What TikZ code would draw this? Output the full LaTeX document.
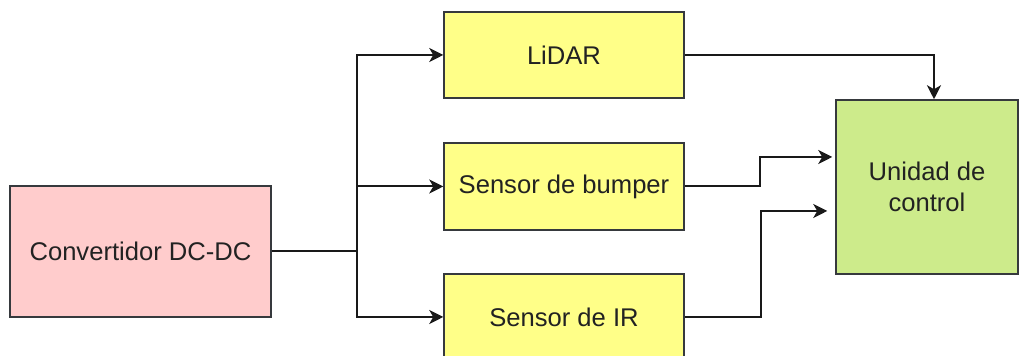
\documentclass[tikz,border=0pt]{standalone}
\usepackage{fontspec}
\setmainfont{Liberation Sans}
\usetikzlibrary{arrows.meta}
\definecolor{edgegrey}{HTML}{36393D}
\definecolor{pinkfill}{HTML}{FFCCCC}
\definecolor{yellowfill}{HTML}{FFFF88}
\definecolor{greenfill}{HTML}{CDEB8B}
\definecolor{txt}{HTML}{222222}
\tikzset{
  block/.style={draw=edgegrey, line width=0.75pt, rectangle, align=center,
    text=txt, font=\fontsize{12.8}{15.5}\selectfont, inner sep=0pt},
  wire/.style={draw=black!90, line width=1pt},
  arr/.style={wire, -{Stealth[length=7pt, width=7pt, inset=2pt]}}
}
\begin{document}
\begin{tikzpicture}[x=0.5pt, y=-0.5pt]
  \useasboundingbox (0,0) rectangle (1019,356);

  % blocks
  \node[block, fill=pinkfill, minimum width=130.5pt, minimum height=65.5pt]
    (conv) at (140.5,251.5) {Convertidor DC-DC};
  \node[block, fill=yellowfill, minimum width=120pt, minimum height=43pt]
    (lidar) at (564,55) {LiDAR};
  \node[block, fill=yellowfill, minimum width=120pt, minimum height=43.5pt]
    (bump) at (564,186.5) {Sensor de bumper};
  \node[block, fill=yellowfill, minimum width=120pt, minimum height=43pt]
    (ir) at (564,317) {Sensor de IR};
  \node[block, fill=greenfill, minimum width=91pt, minimum height=87pt]
    (unit) at (927,187) {Unidad de\\control};

  % power distribution
  \coordinate (split) at (357,251.5);
  \draw[wire] (conv.east) -- (split);
  \draw[arr] (split) |- (lidar.west);
  \draw[arr] (split) |- (bump.west);
  \draw[arr] (split) |- (ir.west);

  % sensor signals to the control unit
  \draw[arr] (lidar.east) -| ([xshift=3.5pt]unit.north);
  \draw[arr] (bump.east) -- ++(75,0) |- ([xshift=-1.5pt, yshift=15pt]unit.west);
  \draw[arr] (ir.east) -- ++(76,0) |- ([xshift=-4pt, yshift=-12pt]unit.west);
\end{tikzpicture}
\end{document}
